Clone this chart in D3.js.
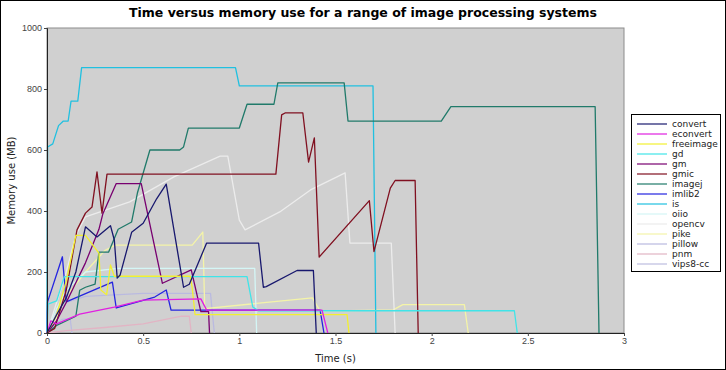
<!DOCTYPE html>
<html>
<head>
<meta charset="utf-8">
<title>Time versus memory use</title>
<script src="https://cdn.jsdelivr.net/npm/d3@7"></script>
<style>
  body { margin: 0; background: #fff; }
  svg { display: block; font-family: "DejaVu Sans", sans-serif; }
  .tick text { font-size: 9px; fill: #444; }
  .series { fill: none; stroke-width: 1.3; stroke-linejoin: round; }
</style>
</head>
<body>
<script>
// each series: [time (s), memory (MB)]
var convert   = [[0,0],[0.05,60],[0.1,115],[0.15,200],[0.2,348],[0.26,315],[0.33,352],[0.35,305],[0.365,180],[0.38,190],[0.44,330],[0.5,360],[0.57,440],[0.62,488],[0.71,150],[0.74,160],[0.83,295],[1.1,295],[1.125,150],[1.14,152],[1.3,205],[1.385,205],[1.40,0]];
var econvert  = [[0,0],[0.02,40],[0.05,30],[0.17,62],[0.35,85],[0.5,108],[0.8,112],[0.83,75],[1.43,75],[1.46,0]];
var freeimage = [[0,0],[0.05,60],[0.1,170],[0.15,320],[0.2,320],[0.27,262],[0.28,141],[0.31,125],[0.33,223],[0.35,186],[0.745,186],[0.755,148],[0.77,60],[1.56,60],[1.57,0]];
var gd        = [[0,0],[0.005,95],[0.05,105],[0.09,185],[1.04,185],[1.07,85],[1.1,73],[2.43,73],[2.445,0]];
var gm        = [[0,0],[0.05,40],[0.1,100],[0.2,230],[0.27,340],[0.29,390],[0.36,490],[0.49,490],[0.6,163],[0.75,207],[0.8,70],[0.84,70],[0.845,0]];
var gmic      = [[0,0],[0.04,15],[0.1,140],[0.156,338],[0.2,393],[0.234,413],[0.26,528],[0.286,393],[0.312,521],[1.19,521],[1.22,715],[1.24,722],[1.33,722],[1.36,560],[1.39,640],[1.415,249],[1.676,434],[1.70,267],[1.785,475],[1.81,500],[1.914,500],[1.93,0]];
var imagej    = [[0,0],[0.05,25],[0.15,55],[0.17,140],[0.2,150],[0.25,160],[0.27,265],[0.32,265],[0.37,340],[0.44,364],[0.47,459],[0.535,600],[0.69,600],[0.71,610],[0.735,672],[1.0,672],[1.04,750],[1.18,750],[1.2,820],[1.545,820],[1.565,695],[2.05,695],[2.1,742],[2.85,742],[2.87,0]];
var imlib2    = [[0,0],[0.003,102],[0.08,250],[0.1,102],[0.34,167],[0.36,82],[0.56,118],[0.62,141],[0.645,75],[1.42,75],[1.44,0]];
var isData    = [[0,0],[0.003,610],[0.03,620],[0.06,680],[0.085,695],[0.11,695],[0.125,760],[0.16,760],[0.18,870],[0.98,870],[1.0,810],[1.695,810],[1.71,0]];
var oiio      = [[0,0],[0.05,80],[0.1,140],[0.2,200],[0.37,212],[1.08,212],[1.09,0]];
var opencv    = [[0,0],[0.05,100],[0.1,200],[0.15,320],[0.2,381],[0.43,430],[0.66,512],[0.9,580],[0.94,580],[1.0,370],[1.03,338],[1.21,397],[1.37,469],[1.55,525],[1.575,295],[1.79,295],[1.81,0]];
var pike      = [[0,0],[0.05,50],[0.1,120],[0.2,200],[0.3,270],[0.355,288],[0.755,288],[0.81,331],[0.82,80],[1.38,115],[1.42,72],[1.8,76],[1.85,93],[2.17,93],[2.19,0]];
var pillow    = [[0,0],[0.03,40],[0.1,100],[0.2,120],[0.5,130],[0.85,130],[0.87,0]];
var pnm       = [[0,0],[0.1,8],[0.3,18],[0.5,30],[0.7,55],[0.74,55],[0.75,0]];
var vips8cc   = [[0,0],[0.03,25],[0.08,45],[0.12,48],[0.13,0]];

var names  = ["convert","econvert","freeimage","gd","gm","gmic","imagej","imlib2","is","oiio","opencv","pike","pillow","pnm","vips8-cc"];
var values = [convert, econvert, freeimage, gd, gm, gmic, imagej, imlib2, isData, oiio, opencv, pike, pillow, pnm, vips8cc];
var colors = ["#18186e","#e020e0","#f2f030","#40e4e8","#780070","#801020","#207a6a","#2424e0","#20c0e0","#d4f6f6","#ececec","#f4f4a8","#babae0","#e2b4c4","#bcbce0"];

var xTicks = [0, 0.5, 1, 1.5, 2, 2.5, 3];
var yTicks = [0, 200, 400, 600, 800, 1000];

var W = 726, H = 370;
var pLeft = 47, pRight = 624, pTop = 28, pBottom = 333;

var svg = d3.select("body").append("svg").attr("width", W).attr("height", H);

svg.append("rect").attr("x", 0.5).attr("y", 0.5).attr("width", W - 1).attr("height", H - 1)
    .attr("fill", "#fff").attr("stroke", "#000");

var x = d3.scaleLinear().domain([0, 3]).range([pLeft, pRight]);
var y = d3.scaleLinear().domain([0, 1000]).range([pBottom, pTop]);

// plot background
svg.append("rect").attr("x", pLeft).attr("y", pTop).attr("width", pRight - pLeft).attr("height", pBottom - pTop)
    .attr("fill", "#d0d0d0").attr("stroke", "#8c8c8c").attr("stroke-width", 1);

var line = d3.line().x(function(d) { return x(d[0]); }).y(function(d) { return y(d[1]); });

var plot = svg.append("g");
for (var i = values.length - 1; i >= 0; i--) {
    plot.append("path")
        .attr("class", "series")
        .attr("d", line(values[i]))
        .attr("stroke", colors[i]);
}

// axes
var xAxis = svg.append("g").attr("transform", "translate(0," + pBottom + ")")
    .call(d3.axisBottom(x).tickValues(xTicks).tickSize(3).tickPadding(2).tickFormat(d3.format("")));
var yAxis = svg.append("g").attr("transform", "translate(" + pLeft + ",0)")
    .call(d3.axisLeft(y).tickValues(yTicks).tickSize(3).tickPadding(2).tickFormat(d3.format("")));
xAxis.select(".domain").attr("stroke", "#222");
yAxis.select(".domain").attr("stroke", "#222");
svg.selectAll(".tick line").attr("stroke", "#444");

// titles
svg.append("text").attr("x", W / 2).attr("y", 17)
    .attr("text-anchor", "middle").attr("font-size", "12.5px").attr("font-weight", "bold")
    .text("Time versus memory use for a range of image processing systems");
svg.append("text").attr("x", (pLeft + pRight) / 2).attr("y", 362)
    .attr("text-anchor", "middle").attr("font-size", "10px").attr("fill", "#222")
    .text("Time (s)");
svg.append("text").attr("transform", "translate(15," + ((pTop + pBottom) / 2) + ") rotate(-90)")
    .attr("text-anchor", "middle").attr("font-size", "10px").attr("fill", "#222")
    .text("Memory use (MB)");

// legend
var lg = svg.append("g");
lg.append("rect").attr("x", 631.5).attr("y", 114.5).attr("width", 89).attr("height", 157)
    .attr("fill", "#fff").attr("stroke", "#000");
names.forEach(function(n, i) {
    var ly = 124 + i * 10;
    lg.append("line").attr("x1", 637).attr("x2", 667).attr("y1", ly).attr("y2", ly)
        .attr("stroke", colors[i]).attr("stroke-width", 1.2);
    lg.append("text").attr("x", 672).attr("y", ly + 3).attr("font-size", "9px").attr("fill", "#222").text(n);
});
</script>
</body>
</html>
